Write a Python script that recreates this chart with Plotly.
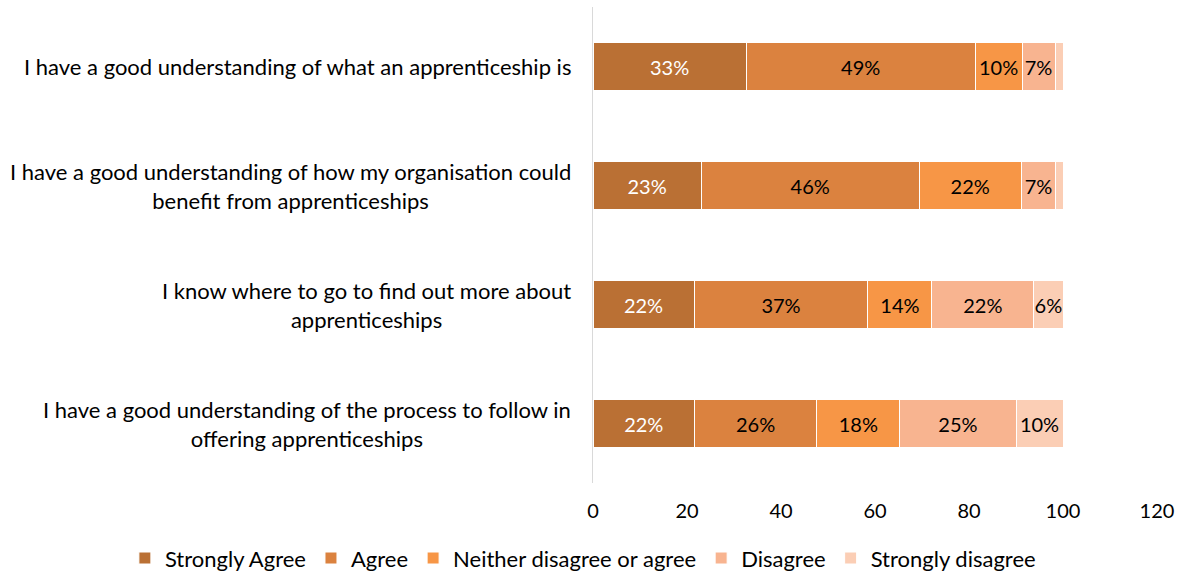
import plotly.graph_objects as go

# Survey statements (top to bottom)
statements = [
    "I have a good understanding of what an apprenticeship is",
    "I have a good understanding of how my organisation could<br>benefit from apprenticeships",
    "I know where to go to find out more about<br>apprenticeships",
    "I have a good understanding of the process to follow in<br>offering apprenticeships",
]

# Share of respondents (%) per response option, one value per statement
strongly_agree = [32.6, 23.0, 21.5, 21.6]
agree = [48.7, 46.4, 37.0, 26.0]
neither = [10.0, 21.7, 13.6, 17.7]
disagree = [7.0, 7.4, 21.7, 24.7]
strongly_disagree = [1.7, 1.5, 6.2, 10.0]

series = [
    ("Strongly Agree", strongly_agree, "#BA7034", "white"),
    ("Agree", agree, "#DB823F", "black"),
    ("Neither disagree or agree", neither, "#F79646", "black"),
    ("Disagree", disagree, "#F8B490", "black"),
    ("Strongly disagree", strongly_disagree, "#FBCEB5", "black"),
]

FONT = "Lato"
TEXT_SIZE = 22
NUM_SIZE = 20

fig = go.Figure()
for name, vals, color, txtcol in series:
    labels = [f"{round(v)}%" if v >= 5 else "" for v in vals]
    fig.add_trace(go.Bar(
        y=statements, x=vals, name=name, orientation="h",
        marker=dict(color=color, line=dict(color="white", width=1)),
        text=labels, textposition="inside", insidetextanchor="middle",
        textangle=0,
        textfont=dict(family=FONT, size=NUM_SIZE, color=txtcol),
        width=0.4,
    ))

# Statement labels, centred lines, placed left of the plot area
for s in statements:
    fig.add_annotation(
        x=0, xref="paper", y=s, yref="y", xanchor="right", yanchor="middle",
        xshift=-20, text=s, showarrow=False, align="center",
        font=dict(family=FONT, size=TEXT_SIZE, color="black"),
    )

fig.update_layout(
    barmode="stack",
    width=1177, height=572,
    margin=dict(l=593, r=20, t=7, b=89, autoexpand=False),
    paper_bgcolor="white", plot_bgcolor="white",
    font=dict(family=FONT, size=NUM_SIZE, color="black"),
    uniformtext=dict(minsize=NUM_SIZE, mode="show"),
    bargap=0.6,
    legend=dict(
        orientation="h", x=-0.83, xref="paper", xanchor="left",
        y=-0.158, yref="paper", yanchor="middle",
        font=dict(family=FONT, size=TEXT_SIZE, color="black"),
        itemwidth=30, traceorder="normal",
    ),
    showlegend=True,
)
fig.update_xaxes(
    range=[0, 120], dtick=20, showgrid=False, zeroline=False,
    showline=False, ticks="", tickfont=dict(family=FONT, size=NUM_SIZE),
    ticklabelstandoff=14, fixedrange=True,
)
fig.update_yaxes(
    autorange="reversed", showticklabels=False, showgrid=False,
    showline=True, linecolor="#D9D9D9", linewidth=1, ticks="",
    zeroline=False,
)

fig.write_html("out.html")
